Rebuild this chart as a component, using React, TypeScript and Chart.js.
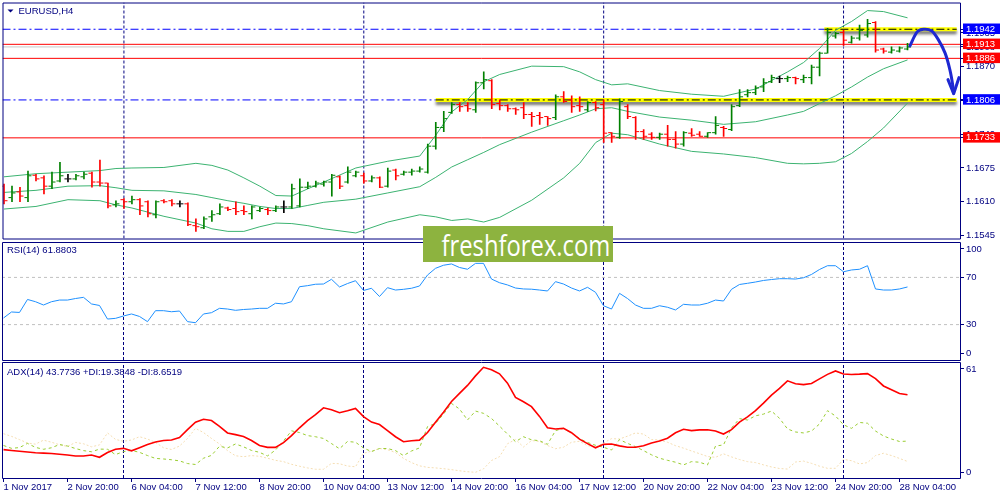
import React, { useEffect, useRef } from 'react';
import { Chart, registerables } from 'chart.js';

Chart.register(...registerables);

// ---------------- data ----------------
const barOpen = [
  1.1640, 1.1618, 1.1629, 1.1618, 1.1661, 1.1656, 1.1640, 1.1650, 1.1654, 1.1654,
  1.1658, 1.1665, 1.1648, 1.1646, 1.1604, 1.1614, 1.1610, 1.1614, 1.1610, 1.1585,
  1.1612, 1.1612, 1.1606, 1.1606, 1.1564, 1.1560, 1.1581, 1.1587, 1.1598, 1.1597,
  1.1593, 1.1587, 1.1593, 1.1595, 1.1593, 1.1600, 1.1600, 1.1602, 1.1638, 1.1640,
  1.1644, 1.1648, 1.1658, 1.1648, 1.1660, 1.1660, 1.1650, 1.1656, 1.1640, 1.1671,
  1.1663, 1.1667, 1.1669, 1.1667, 1.1717, 1.1753, 1.1782, 1.1797, 1.1795, 1.1787,
  1.1839, 1.1843, 1.1799, 1.1795, 1.1789, 1.1791, 1.1778, 1.1776, 1.1774, 1.1772,
  1.1812, 1.1806, 1.1795, 1.1787, 1.1801, 1.1797, 1.1743, 1.1734, 1.1793, 1.1772,
  1.1745, 1.1740, 1.1734, 1.1740, 1.1730, 1.1721, 1.1742, 1.1740, 1.1736, 1.1743,
  1.1753, 1.1749, 1.1795, 1.1816, 1.1820, 1.1831, 1.1841, 1.1847, 1.1847, 1.1849,
  1.1845, 1.1849, 1.1869, 1.1896, 1.1929, 1.1936, 1.1917, 1.1925, 1.1931, 1.1955,
  1.1904, 1.1898, 1.1900, 1.1904,
];
const barHigh = [
  1.1644, 1.1640, 1.1638, 1.1669, 1.1663, 1.1660, 1.1667, 1.1686, 1.1663, 1.1663,
  1.1667, 1.1667, 1.1690, 1.1646, 1.1612, 1.1616, 1.1621, 1.1616, 1.1612, 1.1612,
  1.1614, 1.1614, 1.1612, 1.1608, 1.1577, 1.1581, 1.1593, 1.1606, 1.1600, 1.1610,
  1.1602, 1.1602, 1.1600, 1.1598, 1.1602, 1.1612, 1.1644, 1.1654, 1.1648, 1.1650,
  1.1650, 1.1663, 1.1660, 1.1677, 1.1669, 1.1665, 1.1660, 1.1658, 1.1675, 1.1673,
  1.1669, 1.1673, 1.1677, 1.1721, 1.1763, 1.1784, 1.1801, 1.1801, 1.1801, 1.1841,
  1.1860, 1.1845, 1.1806, 1.1797, 1.1791, 1.1801, 1.1782, 1.1782, 1.1774, 1.1816,
  1.1822, 1.1814, 1.1812, 1.1803, 1.1803, 1.1806, 1.1743, 1.1808, 1.1797, 1.1774,
  1.1749, 1.1743, 1.1742, 1.1757, 1.1745, 1.1745, 1.1751, 1.1745, 1.1743, 1.1774,
  1.1755, 1.1797, 1.1826, 1.1826, 1.1833, 1.1847, 1.1854, 1.1852, 1.1852, 1.1850,
  1.1854, 1.1873, 1.1898, 1.1944, 1.1936, 1.1940, 1.1929, 1.1950, 1.1961, 1.1957,
  1.1906, 1.1908, 1.1908, 1.1915,
];
const barLow = [
  1.1606, 1.1610, 1.1610, 1.1610, 1.1650, 1.1625, 1.1635, 1.1648, 1.1648, 1.1652,
  1.1654, 1.1638, 1.1640, 1.1598, 1.1600, 1.1597, 1.1606, 1.1585, 1.1581, 1.1579,
  1.1608, 1.1602, 1.1600, 1.1564, 1.1553, 1.1558, 1.1572, 1.1585, 1.1593, 1.1585,
  1.1585, 1.1577, 1.1591, 1.1585, 1.1591, 1.1589, 1.1597, 1.1600, 1.1635, 1.1638,
  1.1640, 1.1621, 1.1635, 1.1646, 1.1658, 1.1646, 1.1648, 1.1637, 1.1638, 1.1652,
  1.1661, 1.1661, 1.1667, 1.1665, 1.1711, 1.1745, 1.1780, 1.1784, 1.1784, 1.1782,
  1.1827, 1.1789, 1.1787, 1.1784, 1.1778, 1.1770, 1.1755, 1.1759, 1.1757, 1.1768,
  1.1801, 1.1782, 1.1784, 1.1784, 1.1785, 1.1724, 1.1724, 1.1732, 1.1770, 1.1730,
  1.1730, 1.1730, 1.1730, 1.1717, 1.1713, 1.1717, 1.1736, 1.1736, 1.1734, 1.1740,
  1.1736, 1.1747, 1.1793, 1.1812, 1.1816, 1.1822, 1.1839, 1.1839, 1.1841, 1.1837,
  1.1839, 1.1837, 1.1852, 1.1896, 1.1925, 1.1911, 1.1915, 1.1921, 1.1927, 1.1898,
  1.1896, 1.1896, 1.1898, 1.1902,
];
const barClose = [
  1.1612, 1.1627, 1.1621, 1.1660, 1.1654, 1.1640, 1.1648, 1.1660, 1.1654, 1.1660,
  1.1663, 1.1648, 1.1646, 1.1602, 1.1606, 1.1610, 1.1614, 1.1602, 1.1587, 1.1610,
  1.1610, 1.1606, 1.1606, 1.1566, 1.1562, 1.1577, 1.1585, 1.1600, 1.1595, 1.1591,
  1.1591, 1.1600, 1.1597, 1.1593, 1.1600, 1.1600, 1.1635, 1.1638, 1.1640, 1.1646,
  1.1648, 1.1661, 1.1640, 1.1667, 1.1667, 1.1650, 1.1656, 1.1638, 1.1669, 1.1660,
  1.1667, 1.1669, 1.1673, 1.1717, 1.1753, 1.1770, 1.1797, 1.1793, 1.1789, 1.1839,
  1.1845, 1.1797, 1.1795, 1.1789, 1.1787, 1.1778, 1.1774, 1.1772, 1.1770, 1.1812,
  1.1803, 1.1793, 1.1793, 1.1801, 1.1791, 1.1742, 1.1736, 1.1803, 1.1774, 1.1745,
  1.1736, 1.1734, 1.1740, 1.1730, 1.1721, 1.1743, 1.1738, 1.1736, 1.1743, 1.1757,
  1.1751, 1.1793, 1.1812, 1.1820, 1.1829, 1.1839, 1.1849, 1.1847, 1.1849, 1.1847,
  1.1849, 1.1869, 1.1896, 1.1936, 1.1934, 1.1921, 1.1925, 1.1940, 1.1953, 1.1902,
  1.1900, 1.1902, 1.1906, 1.1908,
];

const bandIdx = [0, 4, 8, 12, 14, 16, 20, 24, 26, 28, 30, 32, 34, 36, 38, 40, 44, 48, 52, 54, 56, 58, 60, 62, 66, 70, 72, 74, 76, 78, 82, 86, 90, 94, 98, 100, 102, 104, 106, 108, 110, 113];
const bandUpper = [
  1.1658, 1.1664, 1.1667, 1.1670, 1.1674, 1.1675, 1.1676, 1.1684, 1.1680, 1.1671,
  1.1656, 1.1640, 1.1622, 1.1621, 1.1635, 1.1648, 1.1675, 1.1688, 1.1698, 1.1738,
  1.1783, 1.1807, 1.1841, 1.1855, 1.1871, 1.1870, 1.1860, 1.1845, 1.1835, 1.1837,
  1.1824, 1.1817, 1.1813, 1.1827, 1.1860, 1.1878, 1.1905, 1.1940, 1.1957, 1.1978,
  1.1976, 1.1964,
];
const bandMiddle = [
  1.1628, 1.1632, 1.1640, 1.1641, 1.1637, 1.1632, 1.1631, 1.1624, 1.1618, 1.1612,
  1.1607, 1.1601, 1.1597, 1.1597, 1.1603, 1.1609, 1.1615, 1.1627, 1.1639, 1.1657,
  1.1677, 1.1691, 1.1705, 1.1720, 1.1744, 1.1766, 1.1777, 1.1789, 1.1791, 1.1784,
  1.1773, 1.1767, 1.1759, 1.1764, 1.1777, 1.1784, 1.1799, 1.1814, 1.1831, 1.1850,
  1.1866, 1.1883,
];
const bandLower = [
  1.1596, 1.1601, 1.1614, 1.1612, 1.1604, 1.1598, 1.1582, 1.1569, 1.1558, 1.1553,
  1.1553, 1.1562, 1.1569, 1.1568, 1.1564, 1.1558, 1.1550, 1.1571, 1.1585, 1.1581,
  1.1574, 1.1577, 1.1571, 1.1580, 1.1613, 1.1656, 1.1684, 1.1724, 1.1742, 1.1739,
  1.1721, 1.1707, 1.1702, 1.1695, 1.1684, 1.1683, 1.1684, 1.1687, 1.1703, 1.1726,
  1.1752, 1.1800,
];

const rsiValues = [
  35.6, 40.7, 40.3, 51.3, 49.4, 46.6, 49.4, 50.8, 50.8, 52.1,
  53.1, 47.5, 46.2, 34.7, 35.3, 37.3, 39.0, 36.9, 32.5, 41.8,
  41.8, 40.9, 41.5, 32.5, 31.6, 39.0, 40.1, 43.8, 43.2, 42.1,
  42.8, 43.2, 43.8, 43.8, 48.1, 47.5, 49.4, 62.1, 63.0, 64.2,
  64.4, 68.4, 61.9, 64.8, 67.2, 58.9, 60.8, 53.8, 61.3, 59.3,
  59.9, 60.8, 62.7, 72.0, 77.7, 80.3, 81.4, 78.4, 76.9, 81.9,
  81.9, 68.6, 65.5, 63.6, 61.0, 60.2, 60.0, 59.3, 58.5, 66.4,
  64.4, 61.0, 58.5, 61.6, 57.4, 46.0, 43.2, 56.5, 52.1, 46.6,
  43.8, 43.8, 46.0, 44.7, 42.4, 47.2, 46.6, 46.6, 48.1, 50.8,
  50.0, 59.9, 64.0, 65.0, 66.1, 67.4, 68.2, 68.9, 68.9, 68.6,
  69.7, 72.5, 76.7, 79.9, 79.9, 74.8, 76.3, 76.9, 79.9, 60.2,
  59.3, 59.3, 60.2, 61.9,
];

const adxValues = [
  14.9, 14.5, 14.1, 13.7, 13.3, 13.1, 12.9, 12.5, 12.1, 11.6,
  11.6, 12.1, 10.9, 13.4, 15.1, 15.6, 14.3, 15.9, 17.6, 18.9,
  19.7, 20.0, 21.3, 25.4, 29.3, 30.9, 30.2, 27.2, 23.7, 22.8,
  21.8, 19.7, 17.1, 16.1, 16.1, 18.6, 22.3, 26.4, 30.2, 33.3,
  36.9, 35.9, 34.3, 35.4, 36.6, 32.3, 29.4, 28.1, 24.9, 21.7,
  19.1, 19.6, 19.9, 23.9, 29.3, 34.6, 40.2, 44.5, 48.7, 53.7,
  58.2, 56.9, 54.8, 49.9, 42.4, 40.1, 37.5, 32.4, 26.4, 25.8,
  26.1, 23.8, 20.4, 18.1, 15.9, 17.7, 17.9, 16.9, 16.2, 16.2,
  17.0, 18.4, 19.5, 20.9, 23.8, 25.6, 24.9, 25.3, 25.4, 24.7,
  23.1, 25.4, 29.4, 32.1, 35.4, 39.4, 43.6, 47.1, 51.1, 49.6,
  49.1, 49.7, 52.1, 54.5, 56.3, 54.7, 54.4, 54.6, 54.9, 52.3,
  48.4, 46.4, 44.4, 43.8,
];
const plusDI = [
  17.1, 15.6, 16.0, 18.2, 16.1, 15.1, 15.9, 17.6, 16.8, 15.5,
  14.4, 13.8, 15.2, 15.1, 12.3, 13.9, 14.5, 13.5, 11.8, 10.3,
  10.0, 9.6, 9.0, 7.6, 7.1, 10.4, 11.9, 16.7, 15.8, 17.9,
  16.4, 14.5, 13.5, 11.6, 14.7, 19.5, 24.8, 23.9, 22.3, 21.7,
  20.8, 18.1, 15.4, 19.2, 18.8, 15.8, 13.9, 15.5, 15.5, 14.4,
  11.8, 14.2, 15.8, 27.0, 28.7, 33.6, 39.2, 36.3, 30.5, 35.2,
  34.0, 31.3, 27.3, 23.1, 19.1, 21.7, 20.1, 19.6, 17.7, 24.9,
  26.1, 23.7, 20.7, 18.7, 17.2, 16.2, 14.7, 20.2, 18.2, 16.5,
  14.4, 12.2, 10.4, 9.3, 8.3, 6.9, 8.6, 8.3, 6.9, 16.8,
  17.4, 26.3, 31.2, 30.5, 32.7, 33.6, 35.2, 31.4, 25.8, 24.2,
  23.7, 24.7, 28.4, 35.4, 32.6, 28.0, 26.1, 29.2, 28.8, 24.7,
  22.1, 20.5, 19.2, 19.4,
];
const minusDI = [
  23.3, 21.9, 20.2, 18.4, 17.8, 19.9, 18.8, 17.5, 16.6, 18.7,
  18.0, 16.4, 17.4, 23.7, 20.3, 19.3, 20.0, 21.7, 20.5, 18.7,
  15.9, 15.0, 16.8, 20.8, 26.1, 23.9, 20.8, 17.9, 14.4, 11.7,
  11.2, 11.8, 11.4, 10.4, 9.3, 8.6, 7.2, 6.2, 5.3, 4.6,
  4.6, 7.7, 7.5, 6.3, 5.9, 13.0, 14.1, 15.5, 14.9, 13.4,
  10.3, 8.1, 6.4, 5.6, 5.3, 4.9, 4.4, 3.8, 3.3, 3.0,
  4.8, 9.2, 11.2, 18.0, 20.3, 16.3, 19.7, 19.2, 17.1, 15.4,
  16.2, 18.8, 19.3, 17.0, 16.3, 18.4, 20.7, 20.5, 22.0, 23.7,
  23.1, 20.2, 20.0, 18.8, 17.0, 15.7, 14.2, 12.8, 11.3, 10.9,
  12.7, 11.1, 9.7, 8.6, 8.1, 6.9, 5.8, 5.0, 4.7, 8.4,
  8.9, 7.7, 6.2, 5.1, 5.1, 9.8, 9.1, 7.4, 8.1, 11.8,
  13.0, 11.8, 10.3, 8.7,
];

const xTickIdx = [0, 8, 16, 24, 32, 40, 48, 56, 64, 72, 80, 88, 96, 104, 112];
const xTickLabels = [
  '1 Nov 2017', '2 Nov 20:00', '6 Nov 04:00', '7 Nov 12:00', '8 Nov 20:00',
  '10 Nov 04:00', '13 Nov 12:00', '14 Nov 20:00', '16 Nov 04:00', '17 Nov 12:00',
  '20 Nov 20:00', '22 Nov 04:00', '23 Nov 12:00', '24 Nov 20:00', '28 Nov 04:00',
];
const separatorIdx = [15, 45, 75, 105];

const priceTicks = [1.1545, 1.1610, 1.1675, 1.1740, 1.1805, 1.1870, 1.1935];
const redLevels = [1.1913, 1.1886, 1.1733];
const blueLevels = [1.1942, 1.1806];
const bidLevel = 1.1908;
const zoneLevels = [1.1942, 1.1806];
const zoneStart = [102.6, 54.0];
const zoneEnd = [119.15, 119.15];

const arrowX = [113.3, 114.2, 115.0, 116.0, 116.85, 117.7, 118.3, 118.65, 118.75];
const arrowY = [1.1910, 1.1937, 1.1942, 1.1939, 1.1922, 1.1896, 1.1864, 1.1835, 1.1819];
const arrowHeadX = [118.06, 118.77, 119.44];
const arrowHeadY = [1.1845, 1.1818, 1.1849];

const rsiLevels = [70, 30];
const rsiAxisLabels = [100, 70, 30, 0];
const adxAxisLabels = [61, 0];

// ---------------- styling / layout ----------------
const NAVY = '#000080';
const BULL = '#008000';
const BEAR = '#ff0000';
const DOJI = '#000000';
const BAND = '#3cb371';
const FAMILY = '"Liberation Sans", Arial, sans-serif';
const TICK_FONT = { family: FAMILY, size: 9.5, lineHeight: 1 };
const X_MIN = -0.1875;
const X_MAX = 119.6875;
const P_MIN = 1.15393;
const P_MAX = 1.19935;
const TICK_OFF = 0.25;
const DASH_DOT = [8, 3, 2, 3];

const barColor = barOpen.map((o, i) => (barClose[i] > o ? BULL : barClose[i] < o ? BEAR : DOJI));

const framePlugin = {
  id: 'frame',
  afterDraw(chart: any) {
    const { ctx, chartArea: a } = chart;
    ctx.save();
    ctx.strokeStyle = NAVY;
    ctx.lineWidth = 1;
    ctx.beginPath();
    ctx.rect(a.left + 0.5, a.top + 0.5, a.right - a.left - 1, a.bottom - a.top);
    ctx.stroke();
    ctx.restore();
  },
};

const titlePlugin = {
  id: 'panelTitle',
  afterDraw(chart: any, _args: any, opts: any) {
    if (!opts || !opts.text) return;
    const { ctx, chartArea: a } = chart;
    ctx.save();
    ctx.fillStyle = NAVY;
    ctx.font = `9.5px ${FAMILY}`;
    ctx.textBaseline = 'middle';
    let x = a.left + 5;
    if (opts.triangle) {
      ctx.beginPath();
      ctx.moveTo(a.left + 5, a.top + 7);
      ctx.lineTo(a.left + 11, a.top + 7);
      ctx.lineTo(a.left + 8, a.top + 10);
      ctx.closePath();
      ctx.fill();
      x = a.left + 16;
    }
    ctx.fillText(opts.text, x, a.top + opts.dy);
    ctx.restore();
  },
};

const shadowPlugin = {
  id: 'zoneShadow',
  beforeDatasetDraw(chart: any, args: any) {
    const ds: any = chart.data.datasets[args.index];
    if (ds && ds.shadow) {
      const c = chart.ctx;
      c.save();
      c.shadowColor = 'rgba(0,0,0,0.55)';
      c.shadowBlur = 3;
      c.shadowOffsetY = 3;
    }
  },
  afterDatasetDraw(chart: any, args: any) {
    const ds: any = chart.data.datasets[args.index];
    if (ds && ds.shadow) chart.ctx.restore();
  },
};

function hline(level: number, x0: number, x1: number, color: string, width: number, dash: number[], order: number, extra: any = {}) {
  return {
    type: 'line',
    data: [{ x: x0, y: level }, { x: x1, y: level }],
    borderColor: color,
    borderWidth: width,
    borderDash: dash,
    pointRadius: 0,
    tension: 0,
    fill: false,
    order,
    ...extra,
  };
}

function separators(lo: number, hi: number) {
  return {
    type: 'line',
    data: separatorIdx.flatMap((i) => [{ x: i, y: lo }, { x: i, y: hi }, { x: i, y: null }]),
    borderColor: NAVY,
    borderWidth: 1,
    borderDash: [3, 2],
    pointRadius: 0,
    spanGaps: false,
    fill: false,
    order: 20,
  };
}

function series(values: number[], color: string, width: number, dash: number[], order: number) {
  return {
    type: 'line',
    data: values.map((v, i) => ({ x: i, y: v })),
    borderColor: color,
    borderWidth: width,
    borderDash: dash,
    pointRadius: 0,
    tension: 0,
    fill: false,
    order,
  };
}

function insetTicks(labels: number[], min: number, max: number, px: number, insetTop: number, insetBottom: number) {
  const k = (max - min) / px;
  return labels.map((v) => ({ value: v >= max ? max - insetTop * k : v <= min ? min + insetBottom * k : v }));
}

function xScale(withLabels: boolean) {
  return {
    type: 'linear',
    min: X_MIN,
    max: X_MAX,
    bounds: 'data',
    offset: false,
    display: withLabels,
    border: { display: false },
    grid: { display: true, drawOnChartArea: false, drawTicks: true, tickLength: 4, tickColor: NAVY, tickWidth: 1 },
    ticks: {
      autoSkip: false,
      maxRotation: 0,
      minRotation: 0,
      align: 'start',
      padding: 1,
      color: NAVY,
      font: TICK_FONT,
      callback: (_v: any, i: number) => xTickLabels[i] ?? '',
    },
    afterBuildTicks: (s: any) => {
      s.ticks = xTickIdx.map((v) => ({ value: v }));
    },
    afterFit: (s: any) => {
      if (withLabels) s.height = 22;
      s.paddingLeft = 0;
      s.paddingRight = 0;
    },
  };
}

function yScaleBase(min: number, max: number) {
  return {
    type: 'linear',
    position: 'right',
    min,
    max,
    bounds: 'data',
    border: { display: false },
    grid: { display: true, drawOnChartArea: false, drawTicks: true, tickLength: 3, tickColor: NAVY, tickWidth: 1 },
    afterFit: (s: any) => {
      s.width = 39;
      s.paddingTop = 0;
      s.paddingBottom = 0;
    },
  };
}

const isLevel = (v: number) => blueLevels.includes(v) || redLevels.includes(v);
const levelBg = (v: number) => (blueLevels.includes(v) ? '#0000ff' : redLevels.includes(v) ? '#ff0000' : 'rgba(0,0,0,0)');

const baseOptions = {
  responsive: false,
  animation: false,
  events: [],
};

function makePriceConfig() {
  const datasets: any[] = [
    separators(P_MIN, P_MAX),
    ...redLevels.map((l) => hline(l, X_MIN, X_MAX, '#ff0000', 1, [], 12)),
    hline(bidLevel, X_MIN, X_MAX, '#c8c8c8', 1, [], 13),
    ...blueLevels.map((l, k) => hline(l, X_MIN, zoneStart[k], '#0000ff', 1, DASH_DOT, 12)),
    ...zoneLevels.map((l, k) => hline(l, zoneStart[k], zoneEnd[k], '#ffff00', 4, [], 10, { shadow: true })),
    ...zoneLevels.map((l, k) => hline(l, zoneStart[k], zoneEnd[k], '#000000', 1, DASH_DOT, 9)),
    {
      type: 'line',
      data: bandIdx.map((x, k) => ({ x, y: bandUpper[k] })),
      borderColor: BAND, borderWidth: 1, pointRadius: 0, tension: 0, fill: false, order: 6,
    },
    {
      type: 'line',
      data: bandIdx.map((x, k) => ({ x, y: bandMiddle[k] })),
      borderColor: BAND, borderWidth: 1, pointRadius: 0, tension: 0, fill: false, order: 6,
    },
    {
      type: 'line',
      data: bandIdx.map((x, k) => ({ x, y: bandLower[k] })),
      borderColor: BAND, borderWidth: 1, pointRadius: 0, tension: 0, fill: false, order: 6,
    },
    {
      type: 'bar',
      data: barOpen.map((_o, i) => ({ x: i, y: [barLow[i], barHigh[i]] })),
      backgroundColor: barColor,
      borderWidth: 0,
      barThickness: 1,
      order: 4,
    },
    {
      type: 'line',
      showLine: false,
      data: barOpen.map((v, i) => ({ x: i - TICK_OFF, y: v })),
      pointStyle: 'line',
      pointRadius: 1.5,
      pointHoverRadius: 1.5,
      pointBorderWidth: 1,
      pointBorderColor: barColor,
      pointBackgroundColor: barColor,
      order: 3,
    },
    {
      type: 'line',
      showLine: false,
      data: barClose.map((v, i) => ({ x: i + TICK_OFF, y: v })),
      pointStyle: 'line',
      pointRadius: 1.5,
      pointHoverRadius: 1.5,
      pointBorderWidth: 1,
      pointBorderColor: barColor,
      pointBackgroundColor: barColor,
      order: 3,
    },
    {
      type: 'line',
      data: arrowX.map((x, k) => ({ x, y: arrowY[k] })),
      borderColor: '#1e28d2', borderWidth: 3, pointRadius: 0, tension: 0.3, fill: false,
      borderCapStyle: 'round', borderJoinStyle: 'round', order: 1,
    },
    {
      type: 'line',
      data: arrowHeadX.map((x, k) => ({ x, y: arrowHeadY[k] })),
      borderColor: '#1e28d2', borderWidth: 3, pointRadius: 0, tension: 0, fill: false,
      borderCapStyle: 'round', borderJoinStyle: 'round', order: 1,
    },
  ];
  return {
    type: 'line',
    data: { datasets },
    options: {
      ...baseOptions,
      layout: { padding: { left: 2, right: 0, top: 2, bottom: 1 } },
      plugins: {
        legend: { display: false },
        tooltip: { enabled: false },
        panelTitle: { text: 'EURUSD,H4', triangle: true, dy: 8.7 },
      },
      scales: {
        x: xScale(false),
        y: {
          ...yScaleBase(P_MIN, P_MAX),
          ticks: {
            autoSkip: false,
            padding: 2,
            font: TICK_FONT,
            color: (c: any) => (c.tick && isLevel(c.tick.value) ? '#ffffff' : NAVY),
            showLabelBackdrop: (c: any) => !!(c.tick && isLevel(c.tick.value)),
            backdropColor: (c: any) => (c.tick ? levelBg(c.tick.value) : 'rgba(0,0,0,0)'),
            backdropPadding: { left: 3, right: 6, top: 1, bottom: 0 },
            callback: (v: any) => Number(v).toFixed(4),
          },
          afterBuildTicks: (s: any) => {
            s.ticks = [...priceTicks, bidLevel, ...blueLevels, ...redLevels].map((v) => ({ value: v }));
          },
        },
      },
    },
    plugins: [shadowPlugin, framePlugin, titlePlugin],
  };
}

function makeRsiConfig() {
  const datasets: any[] = [
    separators(0, 100),
    ...rsiLevels.map((l) => hline(l, X_MIN, X_MAX, '#c0c0c0', 1, [3, 3], 15)),
    series(rsiValues, '#1e90ff', 1, [], 1),
  ];
  return {
    type: 'line',
    data: { datasets },
    options: {
      ...baseOptions,
      layout: { padding: { left: 2, right: 0, top: 0, bottom: 1 } },
      plugins: {
        legend: { display: false },
        tooltip: { enabled: false },
        panelTitle: { text: 'RSI(14) 61.8803', dy: 8.7 },
      },
      scales: {
        x: xScale(false),
        y: {
          ...yScaleBase(0, 100),
          ticks: {
            autoSkip: false,
            padding: 2,
            font: TICK_FONT,
            color: NAVY,
            callback: (_v: any, i: number) => String(rsiAxisLabels[i]),
          },
          afterBuildTicks: (s: any) => {
            s.ticks = insetTicks(rsiAxisLabels, 0, 100, 118, 7, 7);
          },
        },
      },
    },
    plugins: [framePlugin, titlePlugin],
  };
}

function makeAdxConfig() {
  const datasets: any[] = [
    separators(0, 61),
    series(minusDI, '#f5deb3', 1, [2, 2], 4),
    series(plusDI, '#9acd32', 1, [3, 3], 3),
    series(adxValues, '#ff0000', 1.6, [], 1),
  ];
  return {
    type: 'line',
    data: { datasets },
    options: {
      ...baseOptions,
      layout: { padding: { left: 2, right: 0, top: 0, bottom: 0 } },
      plugins: {
        legend: { display: false },
        tooltip: { enabled: false },
        panelTitle: { text: 'ADX(14) 43.7736 +DI:19.3848 -DI:8.6519', dy: 10 },
      },
      scales: {
        x: xScale(true),
        y: {
          ...yScaleBase(0, 61),
          ticks: {
            autoSkip: false,
            padding: 2,
            font: TICK_FONT,
            color: NAVY,
            callback: (_v: any, i: number) => String(adxAxisLabels[i]),
          },
          afterBuildTicks: (s: any) => {
            s.ticks = insetTicks(adxAxisLabels, 0, 61, 116, 7, 5.5);
          },
        },
      },
    },
    plugins: [framePlugin, titlePlugin],
  };
}

function Panel({ top, height, make }: { top: number; height: number; make: () => any }) {
  const ref = useRef<HTMLCanvasElement | null>(null);
  useEffect(() => {
    if (!ref.current) return;
    const chart = new Chart(ref.current, make());
    return () => chart.destroy();
  }, []);
  return (
    <canvas
      ref={ref}
      width={1000}
      height={height}
      style={{ position: 'absolute', left: 0, top, width: 1000, height, display: 'block' }}
    />
  );
}

export default function App() {
  return (
    <div style={{ position: 'fixed', left: 0, top: 0, width: 1000, height: 500, background: '#ffffff', overflow: 'hidden' }}>
      <Panel top={0} height={241} make={makePriceConfig} />
      <Panel top={242} height={119} make={makeRsiConfig} />
      <Panel top={362} height={138} make={makeAdxConfig} />
      <div
        style={{
          position: 'absolute',
          left: 423,
          top: 226,
          width: 190,
          height: 36,
          background: '#8db33f',
          color: '#ffffff',
          fontFamily: '"Open Sans", sans-serif',
          fontSize: 29,
          lineHeight: '36px',
          textAlign: 'center',
          whiteSpace: 'nowrap',
          overflow: 'hidden',
        }}
      >
        <span style={{ display: 'inline-block', transform: 'scaleX(0.82)', transformOrigin: 'center', position: 'relative', top: 1 }}>
          freshforex.com
        </span>
      </div>
    </div>
  );
}
